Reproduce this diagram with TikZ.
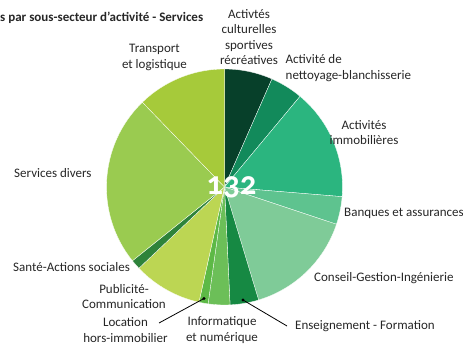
\documentclass[tikz,border=0pt]{standalone}
\usepackage{fontspec}
\setmainfont{Carlito}

\definecolor{culture}{HTML}{07402A}
\definecolor{nettoyage}{HTML}{128A5B}
\definecolor{immo}{HTML}{2BB57F}
\definecolor{banque}{HTML}{5EC38F}
\definecolor{conseil}{HTML}{7FCB98}
\definecolor{enseign}{HTML}{168943}
\definecolor{info}{HTML}{6CBF58}
\definecolor{location}{HTML}{5DB946}
\definecolor{pub}{HTML}{BCD653}
\definecolor{sante}{HTML}{2E833A}
\definecolor{divers}{HTML}{9ACB50}
\definecolor{transport}{HTML}{A6CA3A}

\tikzstyle{sector}=[inner sep=0pt,
                                    text=black!85,
                                    font=\fontsize{13}{15.3}\selectfont]
\tikzstyle{slice}=[draw=white,
                                    line width=0.3pt]
\tikzstyle{leader}=[black,
                                    line width=0.8pt]
\tikzstyle{dot}=[circle,
                                    fill=black,
                                    inner sep=0pt,
                                    minimum size=3.2pt]

\begin{document}
\begin{tikzpicture}[x=1pt,y=1pt]
    % one unit is one pixel of the 463x345 picture
    \useasboundingbox (0,0) rectangle (463,345);
    \coordinate (Center) at (224.5,158);

    % The slices, clockwise from the top:
    \foreach \from/\to/\col in {90/66.3/culture, 66.3/50.2/nettoyage,
            50.2/-4.7/immo, -4.7/-18.4/banque, -18.4/-73.2/conseil,
            -73.2/-87.3/enseign, -87.3/-98/info, -98/-102.5/location,
            -102.5/-136.5/pub, -136.5/-141.3/sante, -141.3/-225.9/divers,
            -225.9/-270/transport}
        \filldraw[slice, fill=\col] (Center) -- ++(\from:118)
            arc[start angle=\from, end angle=\to, radius=118] -- cycle;

    % Total in the middle
    \node (Total) at (231.5,150) [text=white, inner sep=0pt, anchor=base,
        font=\fontsize{33}{33}\selectfont\bfseries\addfontfeatures{Numbers=OldStyle}] {132};

    % Title (cut at the left edge)
    \node (Title) at (0,327) [sector, anchor=west, font=\fontsize{13}{15}\selectfont\bfseries]
        {s par sous-secteur d'activité - Services};

    % Labels round the pie
    \node (Label_Culture) at (249,308) [sector, align=center]
        {Activtés\\culturelles\\sportives\\récréatives};
    \node (Label_Nettoyage) at (285.5,277) [sector, anchor=west, align=left]
        {Activité de\\nettoyage-blanchisserie};
    \node (Label_Immo) at (364,212.5) [sector, align=center]
        {Activités\\immobilières};
    \node (Label_Banque) at (344,132) [sector, anchor=west] {Banques et assurances};
    \node (Label_Conseil) at (314,67) [sector, anchor=west] {Conseil-Gestion-Ingénierie};
    \node (Label_Enseign) at (295,19) [sector, anchor=west] {Enseignement - Formation};
    \node (Label_Info) at (222,15) [sector, align=center]
        {Informatique\\et numérique};
    \node (Label_Location) at (125.5,15) [sector, align=center]
        {Location\\hors-immobilier};
    \node (Label_Pub) at (124,48.5) [sector, align=center]
        {Publicité-\\Communication};
    \node (Label_Sante) at (13,78) [sector, anchor=west] {Santé-Actions sociales};
    \node (Label_Divers) at (14,172) [sector, anchor=west] {Services divers};
    \node (Label_Transport) at (154.5,287.5) [sector, align=center]
        {Transport\\et logistique};

    % Leader lines for the two thin slices
    \node (Dot_Location) at (204,46.5) [dot] {};
    \node (Dot_Enseign) at (243,45) [dot] {};
    \coordinate (End_Location) at (159,22);
    \path[leader]
        (Dot_Location.center) edge (End_Location)
        (Dot_Enseign.center) edge ([xshift=-8pt]Label_Enseign.west)
        ;

\end{tikzpicture}
\end{document}
